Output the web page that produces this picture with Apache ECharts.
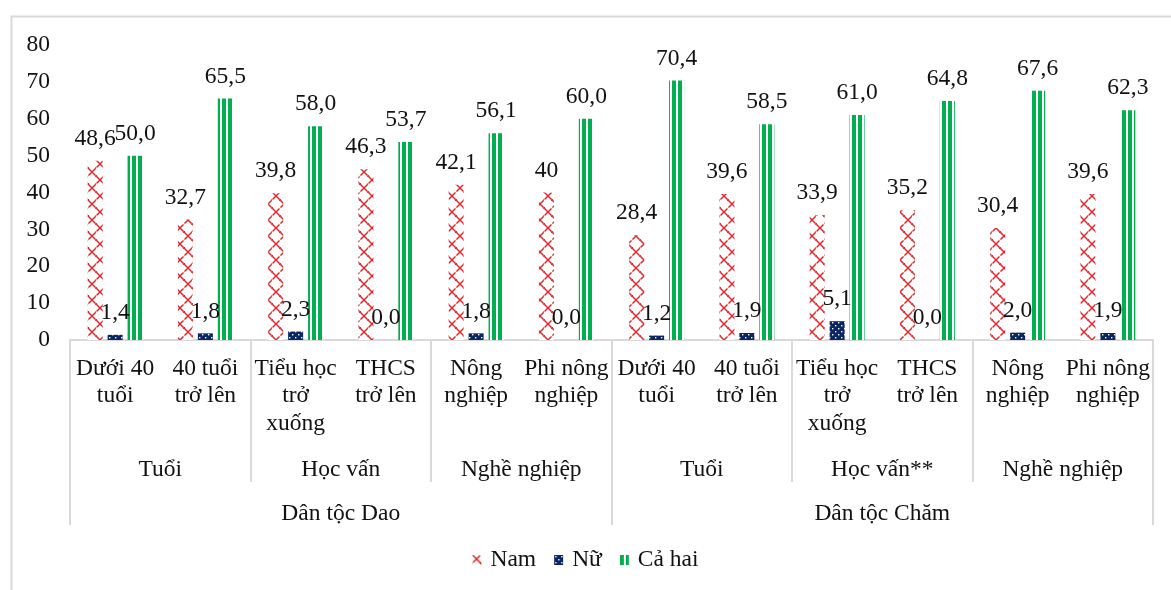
<!DOCTYPE html>
<html>
<head>
<meta charset="utf-8">
<script src="https://cdn.jsdelivr.net/npm/echarts@6/dist/echarts.min.js"></script>
<style>
html,body{margin:0;padding:0;background:#fff;}
#chart{width:1171px;height:590px;}
</style>
</head>
<body>
<div id="chart"></div>
<script>
var categories = ['Dưới 40\ntuổi','40 tuổi\ntrở lên','Tiểu học\ntrở\nxuống','THCS\ntrở lên','Nông\nnghiệp','Phi nông\nnghiệp',
                  'Dưới 40\ntuổi','40 tuổi\ntrở lên','Tiểu học\ntrở\nxuống','THCS\ntrở lên','Nông\nnghiệp','Phi nông\nnghiệp'];
var groups = ['Tuổi','Học vấn','Nghề nghiệp','Tuổi','Học vấn**','Nghề nghiệp'];
var ethnicities = ['Dân tộc Dao','Dân tộc Chăm'];
var seriesNames = ['Nam','Nữ','Cả hai'];
var namValues  = [48.6, 32.7, 39.8, 46.3, 42.1, 40, 28.4, 39.6, 33.9, 35.2, 30.4, 39.6];
var nuValues   = [1.4, 1.8, 2.3, 0.0, 1.8, 0.0, 1.2, 1.9, 5.1, 0.0, 2.0, 1.9];
var caHaiValues= [50.0, 65.5, 58.0, 53.7, 56.1, 60.0, 70.4, 58.5, 61.0, 64.8, 67.6, 62.3];
var namLabels  = ['48,6','32,7','39,8','46,3','42,1','40','28,4','39,6','33,9','35,2','30,4','39,6'];
var nuLabels   = ['1,4','1,8','2,3','0,0','1,8','0,0','1,2','1,9','5,1','0,0','2,0','1,9'];
var caHaiLabels= ['50,0','65,5','58,0','53,7','56,1','60,0','70,4','58,5','61,0','64,8','67,6','62,3'];
var yTicks = {min: 0, max: 80, interval: 10};

function makeTile(w, h, draw) {
  var c = document.createElement('canvas');
  c.width = w; c.height = h;
  var ctx = c.getContext('2d');
  draw(ctx);
  return {image: c, repeat: 'repeat'};
}
var RED = '#e3262c';
var redPattern = makeTile(16, 16, function (ctx) {
  ctx.fillStyle = '#fff'; ctx.fillRect(0, 0, 16, 16);
  ctx.strokeStyle = RED; ctx.lineWidth = 1.5;
  ctx.fillStyle = RED;
  function cross(cx, cy) {
    ctx.beginPath();
    ctx.moveTo(cx - 3.5, cy - 3.5); ctx.lineTo(cx + 3.5, cy + 3.5);
    ctx.moveTo(cx + 3.5, cy - 3.5); ctx.lineTo(cx - 3.5, cy + 3.5);
    ctx.stroke();
    ctx.fillRect(cx - 4.8, cy - 4.8, 1.8, 1.8);
    ctx.fillRect(cx + 3.2, cy + 3.2, 1.8, 1.8);
  }
  cross(4, 4); cross(12, 12); cross(12, -4); cross(-4, 12); cross(20, 12); cross(4, 20); cross(20, -4); cross(-4, 20);
});
var navyPattern = makeTile(6, 6, function (ctx) {
  ctx.fillStyle = '#0b2563'; ctx.fillRect(0, 0, 6, 6);
  ctx.fillStyle = '#ffffff';
  ctx.fillRect(1, 1, 1.4, 1.4);
  ctx.fillRect(4, 4, 1.4, 1.4);
});
var greenPattern = makeTile(6, 4, function (ctx) {
  ctx.fillStyle = '#ffffff'; ctx.fillRect(0, 0, 6, 4);
  ctx.fillStyle = '#00b050'; ctx.fillRect(0, 0, 4, 4);
});

var FONT = 'Liberation Serif';
var FS = 23.5;
var TXT = '#111';
var LINE = '#d9d9d9';

function labelFrom(arr) {
  return {
    show: true, position: 'top', distance: 10,
    fontFamily: FONT, fontSize: FS, color: TXT,
    formatter: function (p) { return arr[p.dataIndex]; }
  };
}

var chart = echarts.init(document.getElementById('chart'));
chart.setOption({
  backgroundColor: '#fff',
  animation: false,
  graphic: [{
    type: 'rect', left: 9, top: 14, silent: true,
    shape: {width: 1200, height: 600},
    style: {fill: 'none', stroke: LINE, lineWidth: 2}
  }],
  grid: {left: 70, right: 18, top: 45, bottom: 250, containLabel: false},
  legend: {
    data: seriesNames, bottom: 13, left: 'center',
    icon: 'rect', itemWidth: 9, itemHeight: 10, itemGap: 18,
    textStyle: {fontFamily: FONT, fontSize: FS, color: TXT, padding: [0, 0, 0, 4]}
  },
  xAxis: [{
    type: 'category', data: categories, position: 'bottom',
    axisLine: {show: true, lineStyle: {color: LINE, width: 2}},
    axisTick: {show: false},
    axisLabel: {interval: 0, margin: 15, fontFamily: FONT, fontSize: FS, lineHeight: 27.5, color: TXT}
  }, {
    type: 'category', data: groups, position: 'bottom',
    axisLine: {show: false},
    axisTick: {show: true, length: 142, lineStyle: {color: LINE, width: 2}},
    axisLabel: {interval: 0, margin: 118, fontFamily: FONT, fontSize: FS, color: TXT}
  }, {
    type: 'category', data: ethnicities, position: 'bottom',
    axisLine: {show: false},
    axisTick: {show: true, length: 185, lineStyle: {color: LINE, width: 2}},
    axisLabel: {interval: 0, margin: 162, fontFamily: FONT, fontSize: FS, color: TXT}
  }],
  yAxis: {
    type: 'value', min: yTicks.min, max: yTicks.max, interval: yTicks.interval,
    axisLine: {show: false}, axisTick: {show: false}, splitLine: {show: false},
    axisLabel: {margin: 20, fontFamily: FONT, fontSize: FS, color: TXT}
  },
  series: [{
    name: seriesNames[0], type: 'bar', xAxisIndex: 0, data: namValues,
    barWidth: 15, barGap: '33%',
    itemStyle: {color: redPattern},
    label: labelFrom(namLabels)
  }, {
    name: seriesNames[1], type: 'bar', xAxisIndex: 0, data: nuValues,
    barWidth: 15, barGap: '33%',
    itemStyle: {color: navyPattern},
    label: labelFrom(nuLabels)
  }, {
    name: seriesNames[2], type: 'bar', xAxisIndex: 0, data: caHaiValues,
    barWidth: 15, barGap: '33%',
    itemStyle: {color: greenPattern},
    label: labelFrom(caHaiLabels)
  }]
});
</script>
</body>
</html>
